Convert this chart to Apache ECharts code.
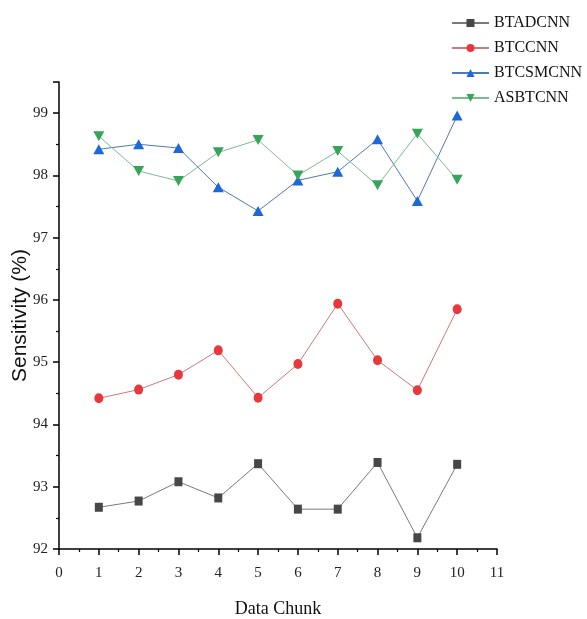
<!DOCTYPE html>
<html>
<head>
<meta charset="utf-8">
<script src="https://cdn.jsdelivr.net/npm/echarts@6/dist/echarts.min.js"></script>
<style>
html,body{margin:0;padding:0;background:#fff;}
#chart{width:587px;height:619px;}
</style>
</head>
<body>
<div id="chart"></div>
<script>
var chunks = [1,2,3,4,5,6,7,8,9,10];
var BTADCNN  = [92.67, 92.77, 93.08, 92.82, 93.37, 92.64, 92.64, 93.39, 92.18, 93.36];
var BTCCNN   = [94.42, 94.56, 94.80, 95.19, 94.43, 94.97, 95.94, 95.03, 94.55, 95.85];
var BTCSMCNN = [98.42, 98.50, 98.44, 97.81, 97.43, 97.92, 98.06, 98.58, 97.59, 98.96];
var ASBTCNN  = [98.63, 98.07, 97.91, 98.37, 98.57, 98.00, 98.39, 97.84, 98.67, 97.93];

function pairs(vals){ return chunks.map(function(c,i){ return [c, vals[i]]; }); }

var font = '"Liberation Serif", "DejaVu Serif", serif';
var sans = '"Liberation Sans", Arial, sans-serif';
var chart = echarts.init(document.getElementById('chart'));

function mkSeries(name, vals, symbol, size, markerColor, lineColor, rotate){
  return {
    name: name, type: 'line', data: pairs(vals),
    symbol: symbol, symbolSize: size, symbolRotate: rotate || 0,
    itemStyle: {color: markerColor},
    lineStyle: {color: lineColor, width: 1},
    emphasis: {disabled: true},
    animation: false
  };
}

chart.setOption({
  backgroundColor: '#fff',
  animation: false,
  grid: {left: 59, right: 90, top: 82, bottom: 70, outerBoundsMode: 'none', containLabel: false},
  legend: {
    orient: 'vertical', right: 0, top: 10, itemGap: 9,
    itemWidth: 37, itemHeight: 10,
    textStyle: {fontFamily: font, fontSize: 16, color: '#111'},
    data: ['BTADCNN','BTCCNN','BTCSMCNN','ASBTCNN']
  },
  xAxis: {
    type: 'value', min: 0, max: 11, interval: 1,
    name: 'Data Chunk', nameLocation: 'middle', nameGap: 51, nameMoveOverlap: false,
    nameTextStyle: {fontFamily: font, fontSize: 18, color: '#111'},
    axisLine: {show: true, onZero: false, lineStyle: {color: '#000', width: 1.5}},
    axisTick: {show: true, inside: false, length: 6, lineStyle: {color: '#000', width: 1.5}},
    minorTick: {show: true, splitNumber: 2, length: 3, lineStyle: {color: '#000', width: 1.2}},
    axisLabel: {fontFamily: font, fontSize: 15, color: '#222', margin: 17},
    splitLine: {show: false}
  },
  yAxis: {
    type: 'value', min: 92, max: 99.5, interval: 1,
    name: 'Sensitivity (%)', nameLocation: 'middle', nameGap: 28, nameRotate: 90, nameMoveOverlap: false,
    nameTextStyle: {fontFamily: sans, fontSize: 21, color: '#111'},
    axisLine: {show: true, onZero: false, lineStyle: {color: '#000', width: 1.5}},
    axisTick: {show: true, inside: false, length: 6, lineStyle: {color: '#000', width: 1.5}},
    minorTick: {show: true, splitNumber: 2, length: 3, lineStyle: {color: '#000', width: 1.2}},
    axisLabel: {fontFamily: font, fontSize: 15, color: '#222', margin: 11,
      formatter: function(v){ return Number.isInteger(v) ? String(v) : ''; }},
    splitLine: {show: false}
  },
  series: [
    mkSeries('BTADCNN', BTADCNN, 'rect', [8, 9], '#474747', '#7a7a7a'),
    mkSeries('BTCCNN', BTCCNN, 'circle', [9, 10], '#e8383b', '#c97a7a'),
    mkSeries('BTCSMCNN', BTCSMCNN, 'triangle', [11, 10], '#1c68d8', '#4d7bb3'),
    mkSeries('ASBTCNN', ASBTCNN, 'triangle', [11, 10], '#36a55a', '#7dbb8e', 180)
  ]
});
</script>
</body>
</html>
